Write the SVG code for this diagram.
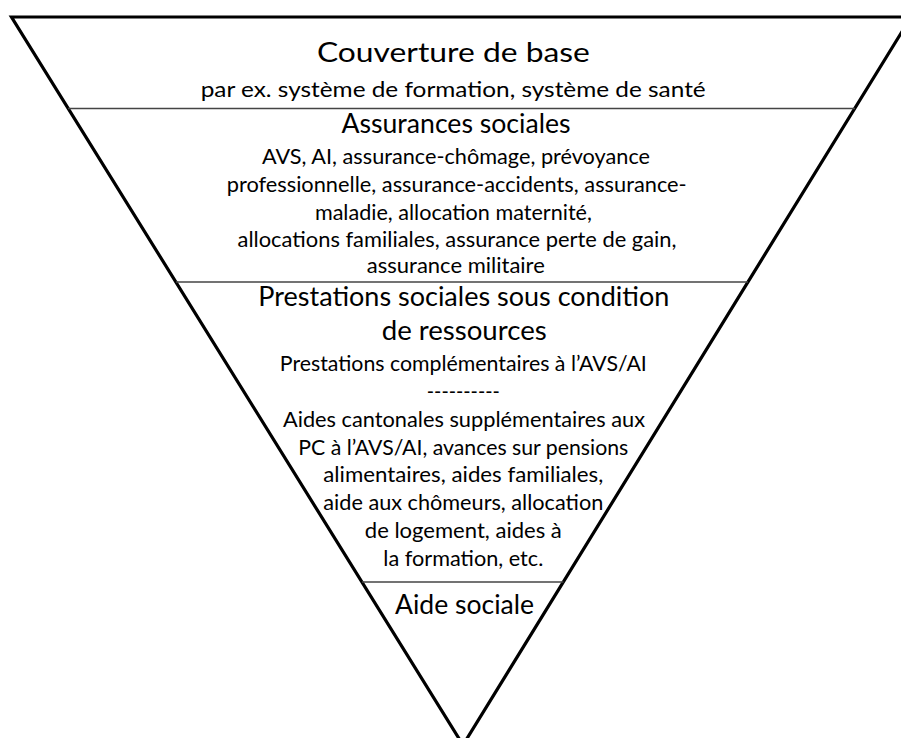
<svg xmlns="http://www.w3.org/2000/svg" width="901" height="738" viewBox="0 0 901 738">
  <style>
    text { font-family: Lato, "Open Sans", "Liberation Sans", sans-serif; fill: #000; text-anchor: middle; }
    .h1 { font-size: 27px; }
    .h2 { font-size: 26px; }
    .b { font-size: 21px; }
    .sub { font-size: 22px; }
    .div { stroke: #444; stroke-width: 1.5; fill: none; }
  </style>
  <rect x="0" y="0" width="901" height="738" fill="#fff"/>
  <g id="funnel">
    <polygon points="11.5,17 911,17 463,745" fill="none" stroke="#000" stroke-width="3.2" stroke-linejoin="miter"/>
  </g>
  <g id="dividers">
    <line class="div" x1="68" y1="108.5" x2="855" y2="108.5"/>
    <line class="div" x1="176" y1="282" x2="748" y2="282"/>
    <line class="div" x1="362" y1="582" x2="563.5" y2="582"/>
  </g>
  <g id="couverture-de-base">
    <text class="h1" x="453.4" y="62.3" textLength="273" lengthAdjust="spacingAndGlyphs">Couverture de base</text>
    <text class="sub" x="453.2" y="96.5" textLength="505" lengthAdjust="spacingAndGlyphs">par ex. système de formation, système de santé</text>
  </g>
  <g id="assurances-sociales">
    <text class="h2" x="456" y="133" textLength="229" lengthAdjust="spacingAndGlyphs">Assurances sociales</text>
    <text class="b" x="456" y="164" textLength="388" lengthAdjust="spacingAndGlyphs">AVS, AI, assurance-chômage, prévoyance</text>
    <text class="b" x="456.7" y="192" textLength="460" lengthAdjust="spacingAndGlyphs">professionnelle, assurance-accidents, assurance-</text>
    <text class="b" x="453.4" y="220" textLength="277" lengthAdjust="spacingAndGlyphs">maladie, allocation maternité,</text>
    <text class="b" x="457" y="247" textLength="439" lengthAdjust="spacingAndGlyphs">allocations familiales, assurance perte de gain,</text>
    <text class="b" x="455.8" y="272.5" textLength="178" lengthAdjust="spacingAndGlyphs">assurance militaire</text>
  </g>
  <g id="prestations-sous-condition">
    <text class="h2" x="463.8" y="306" textLength="411" lengthAdjust="spacingAndGlyphs">Prestations sociales sous condition</text>
    <text class="h2" x="464.2" y="340" textLength="165" lengthAdjust="spacingAndGlyphs">de ressources</text>
    <text class="b" x="463.3" y="371" textLength="367" lengthAdjust="spacingAndGlyphs">Prestations complémentaires à l’AVS/AI</text>
    <text class="b" x="463.3" y="399" textLength="73" lengthAdjust="spacingAndGlyphs">----------</text>
    <text class="b" x="464" y="427" textLength="362" lengthAdjust="spacingAndGlyphs">Aides cantonales supplémentaires aux</text>
    <text class="b" x="463.3" y="454.5" textLength="330" lengthAdjust="spacingAndGlyphs">PC à l’AVS/AI, avances sur pensions</text>
    <text class="b" x="463.3" y="482" textLength="280" lengthAdjust="spacingAndGlyphs">alimentaires, aides familiales,</text>
    <text class="b" x="463.3" y="510" textLength="280" lengthAdjust="spacingAndGlyphs">aide aux chômeurs, allocation</text>
    <text class="b" x="463.3" y="538" textLength="197" lengthAdjust="spacingAndGlyphs">de logement, aides à</text>
    <text class="b" x="463.3" y="566" textLength="160" lengthAdjust="spacingAndGlyphs">la formation, etc.</text>
  </g>
  <g id="aide-sociale">
    <text class="h2" x="464.5" y="613.5" textLength="139" lengthAdjust="spacingAndGlyphs">Aide sociale</text>
  </g>
</svg>
